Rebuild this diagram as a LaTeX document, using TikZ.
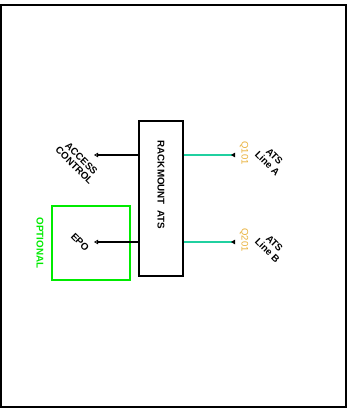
\documentclass[tikz,border=0pt]{standalone}
\usepackage{fontspec}
\setmainfont{Liberation Sans}
\usetikzlibrary{arrows.meta}
\definecolor{tealline}{RGB}{32,208,160}
\definecolor{optgreen}{RGB}{0,235,0}
\definecolor{qorange}{RGB}{232,176,56}
\tikzset{
  lbl/.style={font=\fontsize{9.8}{10}\selectfont\bfseries, align=center, inner sep=0pt},
  diag/.style={lbl, rotate=-45},
  vert/.style={lbl, rotate=-90},
  qlbl/.style={font=\fontsize{9.5}{10}\selectfont, text=qorange, rotate=-90, inner sep=0pt},
  blk/.style={draw, line width=1.3pt, inner sep=0pt},
  outwire/.style={line width=1.1pt, -{Triangle[open,length=4pt,width=4.5pt,line width=0.9pt]}},
  inwire/.style={line width=1.3pt, draw=tealline, -{Triangle[reversed,length=4pt,width=4.5pt,color=black]}}
}
\begin{document}
\begin{tikzpicture}[x=1pt,y=-1pt]
\useasboundingbox (0,0) rectangle (352,409);
\draw[line width=1.5pt] (1,5) rectangle (346,407);
% main box
\node (rack) [blk, minimum width=44pt, minimum height=155pt] at (161,198.5) {};
\node (racklbl) [vert] at (161,185) {RACKMOUNT\ \ ATS};
% optional EPO box
\node (optbox) [blk, draw=optgreen, line width=1.2pt, minimum width=78pt, minimum height=74pt] at (91,243) {};
\node (opt) [vert, text=optgreen] at (40,243) {OPTIONAL};
% left side
\coordinate (acend) at (94,155);
\coordinate (epoend) at (94,242);
\node (ac) [diag] at (78,162) {ACCESS\\CONTROL};
\node (epo) [diag] at (80,242) {EPO};
\draw[outwire] (rack.west |- acend) -- (acend);
\draw[outwire] (rack.west |- epoend) -- (epoend);
% right side
\coordinate (aend) at (235,155);
\coordinate (bend) at (235,242);
\draw[inwire] (rack.east |- aend) -- (aend);
\draw[inwire] (rack.east |- bend) -- (bend);
\node (q101) [qlbl] at (244,153) {Q101};
\node (q201) [qlbl] at (244,240) {Q201};
\node (atsa) [diag] at (271,160) {ATS\\Line A};
\node (atsb) [diag] at (271,247) {ATS\\Line B};
\end{tikzpicture}
\end{document}
